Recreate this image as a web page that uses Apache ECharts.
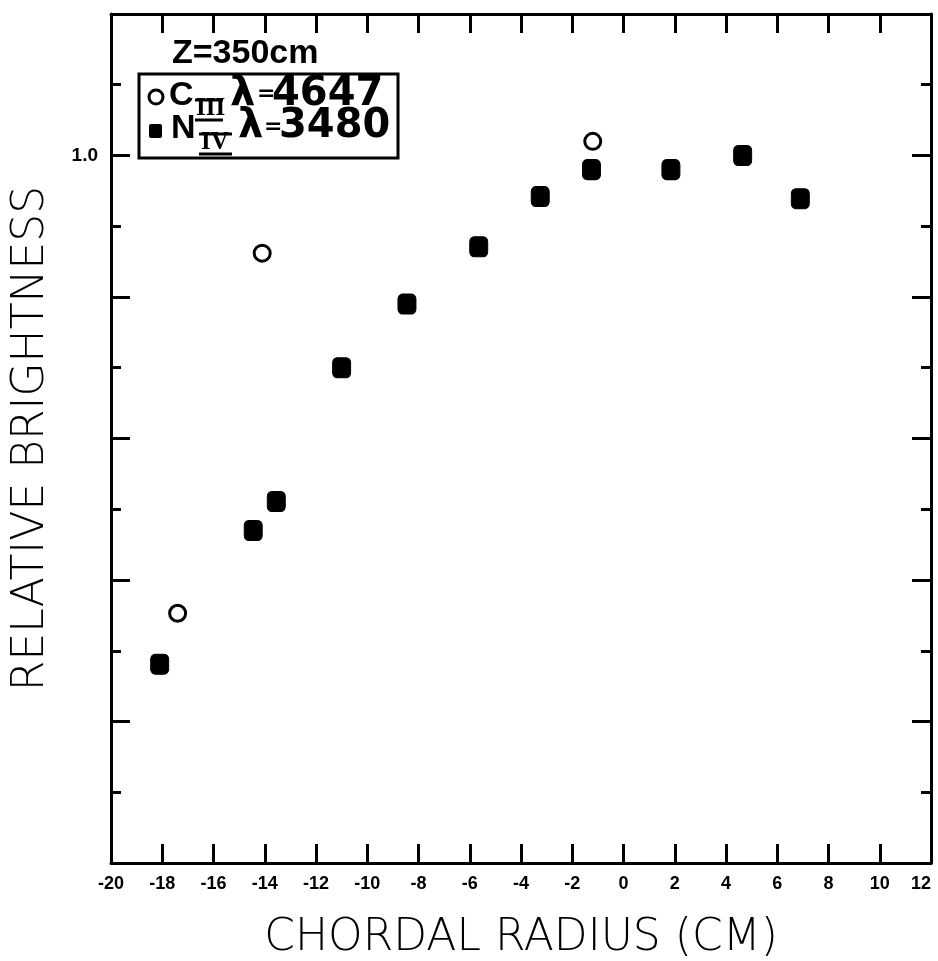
<!DOCTYPE html>
<html>
<head>
<meta charset="utf-8">
<script src="https://cdn.jsdelivr.net/npm/echarts@6/dist/echarts.min.js"></script>
<style>
  html, body { margin: 0; padding: 0; background: #fff; overflow: hidden; }
  #chart { width: 938px; height: 961px; }
</style>
</head>
<body>
<div id="chart"></div>
<script>
// data
var xTicks = [-20, -18, -16, -14, -12, -10, -8, -6, -4, -2, 0, 2, 4, 6, 8, 10, 12];
var yTicks = [0, 0.2, 0.4, 0.6, 0.8, 1.0, 1.2];

// C III, lambda = 4647 (open circles)
var c3Radius = [-17.4, -14.1, -1.2];
var c3Bright = [0.353, 0.862, 1.02];

// N IV, lambda = 3480 (filled squares)
var n4Radius = [-18.1, -14.45, -13.55, -11.0, -8.45, -5.65, -3.25, -1.25, 1.85, 4.65, 6.9];
var n4Bright = [0.281, 0.470, 0.511, 0.700, 0.790, 0.871, 0.942, 0.980, 0.980, 1.0, 0.939];

function pairs(xs, ys) {
    return xs.map(function (x, i) { return [x, ys[i]]; });
}

var chart = echarts.init(document.getElementById('chart'));

var labelFont = 'Liberation Sans';
var nameFont = 'DejaVu Sans';

function frameAxis(extra) {
    var base = {
        axisLine: { show: true, onZero: false, lineStyle: { color: '#000', width: 3 } },
        axisTick: { show: true, inside: true, length: 19, lineStyle: { color: '#000', width: 3 } },
        splitLine: { show: false }
    };
    return Object.assign(base, extra);
}

option = {
    backgroundColor: '#fff',
    animation: false,
    grid: { left: 111, right: 7, top: 14, bottom: 98, outerBoundsMode: 'none' },
    xAxis: [
        frameAxis({
            type: 'value', position: 'bottom',
            min: xTicks[0], max: xTicks[xTicks.length - 1], interval: 2,
            name: 'CHORDAL RADIUS (CM)', nameLocation: 'middle', nameGap: 54,
            nameTextStyle: { fontFamily: nameFont, fontSize: 44, fontWeight: 300, color: '#000' },
            axisLabel: {
                margin: 12, fontFamily: labelFont, fontWeight: 'bold', fontSize: 18, color: '#000',
                alignMaxLabel: 'right'
            }
        }),
        frameAxis({
            type: 'value', position: 'top',
            min: xTicks[0], max: xTicks[xTicks.length - 1], interval: 2,
            axisLabel: { show: false }
        })
    ],
    yAxis: [
        frameAxis({
            type: 'value', position: 'left',
            min: yTicks[0], max: yTicks[yTicks.length - 1], interval: 0.2,
            name: 'RELATIVE BRIGHTNESS', nameLocation: 'middle', nameGap: 57,
            nameTextStyle: { fontFamily: nameFont, fontSize: 44, fontWeight: 300, color: '#000' },
            axisLabel: {
                margin: 13, fontFamily: labelFont, fontWeight: 'bold', fontSize: 19, color: '#000',
                formatter: function (v) { return Math.abs(v - 1) < 1e-6 ? '1.0' : ''; }
            },
            minorTick: { show: true, splitNumber: 2, length: 10, lineStyle: { color: '#000', width: 3 } }
        }),
        frameAxis({
            type: 'value', position: 'right',
            min: yTicks[0], max: yTicks[yTicks.length - 1], interval: 0.2,
            axisLabel: { show: false },
            minorTick: { show: true, splitNumber: 2, length: 10, lineStyle: { color: '#000', width: 3 } }
        })
    ],
    series: [
        {
            name: 'C III',
            type: 'scatter',
            symbol: 'circle',
            symbolSize: 16,
            itemStyle: { color: '#fff', borderColor: '#000', borderWidth: 3, opacity: 1 },
            data: pairs(c3Radius, c3Bright)
        },
        {
            name: 'N IV',
            type: 'scatter',
            symbol: 'roundRect',
            symbolSize: [18, 20],
            itemStyle: { color: '#000', borderColor: '#000', borderWidth: 1, opacity: 1 },
            data: pairs(n4Radius, n4Bright)
        }
    ],
    graphic: [
        { type: 'text', left: 172, top: 37, style: { text: 'Z=350cm', font: 'bold 34px "Liberation Sans"', fill: '#000' } },
        { type: 'rect', shape: { x: 139, y: 74, width: 259, height: 84 }, style: { fill: 'none', stroke: '#000', lineWidth: 3 } },
        { type: 'circle', shape: { cx: 156, cy: 97, r: 7 }, style: { fill: 'none', stroke: '#000', lineWidth: 3 } },
        { type: 'rect', shape: { x: 149, y: 124, width: 13, height: 14, r: 2 }, style: { fill: '#000' } },
        // row 1: C III  lambda = 4647
        { type: 'text', left: 169, top: 79, style: { text: 'C', font: 'bold 34px "Liberation Sans"', fill: '#000' } },
        { type: 'text', left: 196, top: 96, style: { text: 'III', font: 'bold 25px "Liberation Serif"', fill: '#000' } },
        { type: 'line', shape: { x1: 195, y1: 100, x2: 223, y2: 100 }, style: { stroke: '#000', lineWidth: 3 } },
        { type: 'line', shape: { x1: 195, y1: 120, x2: 223, y2: 120 }, style: { stroke: '#000', lineWidth: 3 } },
        { type: 'text', left: 230, top: 75, style: { text: 'λ', font: 'bold 40px "DejaVu Sans"', fill: '#000' } },
        { type: 'text', left: 257, top: 83, style: { text: '=', font: 'bold 22px "DejaVu Sans"', fill: '#000' } },
        { type: 'text', left: 272, top: 75, style: { text: '4647', font: 'bold 40px "DejaVu Sans"', fill: '#000' } },
        // row 2: N IV  lambda = 3480
        { type: 'text', left: 171, top: 112, style: { text: 'N', font: 'bold 34px "Liberation Sans"', fill: '#000' } },
        { type: 'text', left: 201, top: 130, style: { text: 'IV', font: 'bold 25px "Liberation Serif"', fill: '#000' } },
        { type: 'line', shape: { x1: 199, y1: 134, x2: 232, y2: 134 }, style: { stroke: '#000', lineWidth: 3 } },
        { type: 'line', shape: { x1: 199, y1: 154, x2: 232, y2: 154 }, style: { stroke: '#000', lineWidth: 3 } },
        { type: 'text', left: 238, top: 107, style: { text: 'λ', font: 'bold 40px "DejaVu Sans"', fill: '#000' } },
        { type: 'text', left: 264, top: 116, style: { text: '=', font: 'bold 22px "DejaVu Sans"', fill: '#000' } },
        { type: 'text', left: 279, top: 107, style: { text: '3480', font: 'bold 40px "DejaVu Sans"', fill: '#000' } }
    ]
};

chart.setOption(option);
</script>
</body>
</html>
